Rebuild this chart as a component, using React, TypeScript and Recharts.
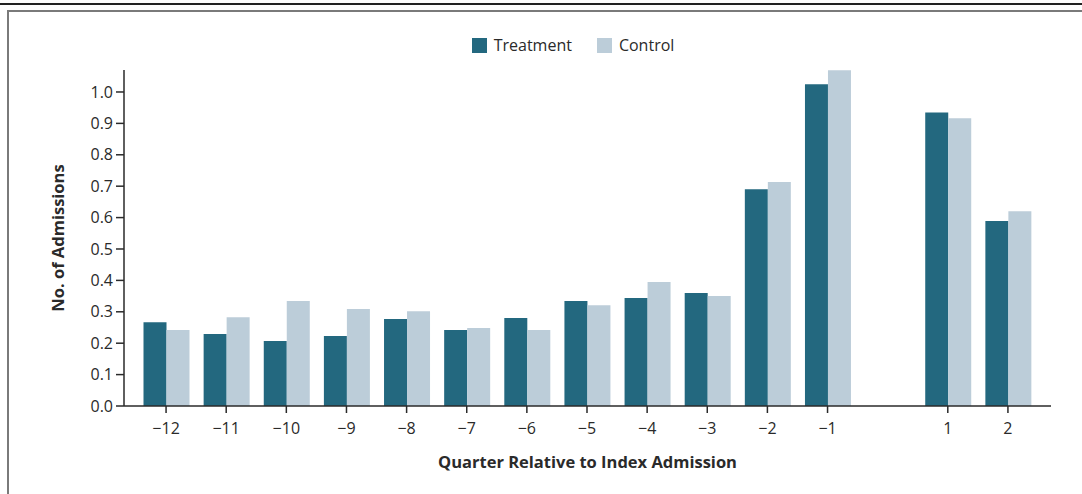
import { Bar, BarChart, Legend, XAxis, YAxis } from "recharts";

const quarters = ["−12", "−11", "−10", "−9", "−8", "−7", "−6", "−5", "−4", "−3", "−2", "−1", "0", "1", "2"];
const treatment = [0.267, 0.229, 0.207, 0.223, 0.277, 0.242, 0.28, 0.334, 0.344, 0.36, 0.69, 1.025, null, 0.935, 0.589];
const control = [0.242, 0.283, 0.334, 0.309, 0.302, 0.248, 0.242, 0.321, 0.395, 0.35, 0.713, 1.069, null, 0.916, 0.62];
const yTicks = [0, 0.1, 0.2, 0.3, 0.4, 0.5, 0.6, 0.7, 0.8, 0.9, 1.0];

const TREAT = "#23687f";
const CTRL = "#bccdd9";
const INK = "#2a2a2a";
const FONT = "'Open Sans', 'Noto Sans', sans-serif";

const data = quarters.map((q, i) => ({ q, treatment: treatment[i], control: control[i] }));

function QuarterTick(props: any) {
  const { x, y, payload } = props;
  if (payload.value === "0") return null;
  const axisY = y - 17;
  return (
    <g>
      <line x1={x} x2={x} y1={axisY} y2={axisY + 7} stroke={INK} strokeWidth={1.5} />
      <text x={x} y={axisY + 28} textAnchor="middle" fill={INK} fontSize={16} fontFamily={FONT}>
        {payload.value}
      </text>
    </g>
  );
}

function LegendRow() {
  const items = [
    { name: "Treatment", color: TREAT },
    { name: "Control", color: CTRL },
  ];
  return (
    <div style={{ display: "flex", justifyContent: "center", gap: 25, fontFamily: FONT, fontSize: 16, lineHeight: "22px", color: INK }}>
      {items.map((it) => (
        <div key={it.name} style={{ display: "flex", alignItems: "center", gap: 7 }}>
          <span style={{ width: 15, height: 15, background: it.color, display: "inline-block" }} />
          <span>{it.name}</span>
        </div>
      ))}
    </div>
  );
}

export default function App() {
  return (
    <div style={{ position: "absolute", left: 0, top: 0, width: 1082, height: 494, background: "#fff", overflow: "hidden" }}>
      <div style={{ position: "absolute", left: 0, right: 0, top: 3, height: 2, background: "#222" }} />
      <div style={{ position: "absolute", left: 7, top: 10, right: -4, bottom: -4, borderLeft: "2px solid #7a7a7a", borderTop: "2px solid #7a7a7a" }} />
      <div style={{ position: "absolute", left: 0, top: 0 }}>
        <BarChart
          width={1082}
          height={494}
          data={data}
          margin={{ top: 48, right: 31, left: 24, bottom: 26 }}
          barCategoryGap={7.5}
          barGap={0}
        >
          <Legend
            layout="vertical"
            align="center"
            verticalAlign="top"
            content={() => <LegendRow />}
            wrapperStyle={{ position: "absolute", top: 34, left: 32, width: 1082 }}
          />
          <XAxis
            dataKey="q"
            interval={0}
            padding={{ left: 12, right: 13 }}
            axisLine={{ stroke: INK, strokeWidth: 1.5 }}
            tickLine={false}
            tickSize={7}
            tickMargin={10}
            tick={<QuarterTick />}
            height={62}
            label={{
              value: "Quarter Relative to Index Admission",
              position: "insideBottom",
              offset: 0,
              fill: INK,
              style: { fontFamily: FONT, fontSize: 16.5, fontWeight: 700 },
            }}
          />
          <YAxis
            type="number"
            domain={[0, 1.07]}
            ticks={yTicks}
            interval={0}
            width={100}
            tickFormatter={(v: number) => v.toFixed(1)}
            axisLine={{ stroke: INK, strokeWidth: 1.5 }}
            tickLine={{ stroke: INK, strokeWidth: 1.5 }}
            tickSize={8}
            tickMargin={3}
            tick={{ fill: INK, fontSize: 16, fontFamily: FONT }}
            label={{
              value: "No. of Admissions",
              angle: -90,
              position: "center",
              dx: -16,
              fill: INK,
              style: { fontFamily: FONT, fontSize: 16.5, fontWeight: 700 },
            }}
          />
          <Bar dataKey="treatment" name="Treatment" fill={TREAT} isAnimationActive={false} />
          <Bar dataKey="control" name="Control" fill={CTRL} isAnimationActive={false} />
        </BarChart>
      </div>
    </div>
  );
}
